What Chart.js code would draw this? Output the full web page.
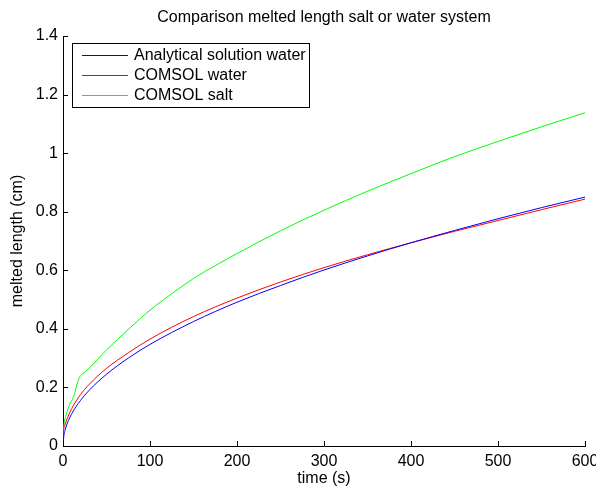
<!DOCTYPE html>
<html>
<head>
<meta charset="utf-8">
<script src="https://cdn.jsdelivr.net/npm/chart.js@4.4.0/dist/chart.umd.min.js"></script>
<style>
html,body{margin:0;padding:0;background:#fff;}
#wrap{width:596px;height:489px;position:relative;}
</style>
</head>
<body>
<div id="wrap"><canvas id="c" width="596" height="489"></canvas></div>
<script>
// ---- data ----
const titleText = "Comparison melted length salt or water system";
const xTitle = "time (s)";
const yTitle = "melted length (cm)";
const seriesNames = ["Analytical solution water", "COMSOL water", "COMSOL salt"];
const seriesColors = ["#0000ff", "#ff0000", "#00ff00"];

const blueT = [0, 1, 2, 5, 10, 20, 30, 50, 75, 100, 150, 200, 250, 300, 350, 400, 450, 500, 550, 600];
const blueV = [0, 0.035, 0.049, 0.078, 0.11, 0.155, 0.19, 0.245, 0.30, 0.347, 0.425, 0.491, 0.548, 0.601, 0.649, 0.694, 0.736, 0.776, 0.814, 0.850];

const redT = [0, 1, 2, 5, 10, 20, 30, 50, 75, 100, 150, 200, 250, 300, 350, 400, 450, 500, 550, 600];
const redV = [0.03, 0.06, 0.07, 0.095, 0.128, 0.175, 0.21, 0.265, 0.318, 0.365, 0.442, 0.505, 0.560, 0.609, 0.653, 0.694, 0.733, 0.770, 0.807, 0.843];

const greenT = [0, 1, 3, 5, 8, 11, 13, 16, 19, 22, 30, 40, 50, 75, 100, 125, 150, 200, 250, 300, 350, 400, 450, 500, 550, 600];
const greenV = [0.03, 0.07, 0.10, 0.12, 0.145, 0.16, 0.175, 0.21, 0.235, 0.245, 0.265, 0.297, 0.328, 0.398, 0.464, 0.52, 0.572, 0.657, 0.735, 0.805, 0.87, 0.93, 0.988, 1.04, 1.09, 1.138];

const xTicks = [0, 100, 200, 300, 400, 500, 600];
const yTicks = [0, 0.2, 0.4, 0.6, 0.8, 1, 1.2, 1.4];
// ----------------------------------------------

const FONT = "'Liberation Sans', Arial, Helvetica, sans-serif";
const FS = 16;

function pts(t, v) { return t.map((x, i) => ({ x: x, y: v[i] })); }

const decor = {
  id: 'decor',
  afterDraw(chart) {
    const ctx = chart.ctx;
    const xs = chart.scales.x, ys = chart.scales.y;
    const a = chart.chartArea;
    ctx.save();
    // inward ticks
    ctx.strokeStyle = '#000';
    ctx.lineWidth = 1;
    ctx.beginPath();
    xTicks.forEach(t => {
      const px = Math.round(xs.getPixelForValue(t)) + 0.5;
      ctx.moveTo(px, a.bottom);
      ctx.lineTo(px, a.bottom - 5);
    });
    yTicks.forEach(t => {
      const py = Math.round(ys.getPixelForValue(t)) + 0.5;
      ctx.moveTo(a.left, py);
      ctx.lineTo(a.left + 5, py);
    });
    ctx.stroke();
    // titles
    ctx.fillStyle = '#000';
    ctx.font = FS + 'px ' + FONT;
    ctx.textAlign = 'center';
    ctx.textBaseline = 'middle';
    ctx.fillText(titleText, (a.left + a.right) / 2, 18);
    ctx.fillText(xTitle, (a.left + a.right) / 2, 479);
    ctx.save();
    ctx.translate(18, (a.top + a.bottom) / 2);
    ctx.rotate(-Math.PI / 2);
    ctx.fillText(yTitle, 0, 0);
    ctx.restore();
    // legend box
    const lx = 72, ly = 43, lw = 237, lh = 64;
    ctx.fillStyle = '#fff';
    ctx.fillRect(lx, ly, lw, lh);
    ctx.strokeStyle = '#000';
    ctx.lineWidth = 1;
    ctx.strokeRect(lx + 0.5, ly + 0.5, lw, lh);
    ctx.textAlign = 'left';
    seriesNames.forEach((name, i) => {
      const y = 55 + i * 20;
      ctx.beginPath();
      ctx.strokeStyle = seriesColors[i];
      ctx.lineWidth = 1;
      ctx.moveTo(82, y + 0.5);
      ctx.lineTo(128, y + 0.5);
      ctx.stroke();
      ctx.fillStyle = '#000';
      ctx.fillText(name, 134, y + 1);
    });
    ctx.restore();
  }
};

new Chart(document.getElementById('c'), {
  type: 'scatter',
  data: {
    datasets: [
      { label: seriesNames[0], data: pts(blueT, blueV), borderColor: seriesColors[0] },
      { label: seriesNames[1], data: pts(redT, redV), borderColor: seriesColors[1] },
      { label: seriesNames[2], data: pts(greenT, greenV), borderColor: seriesColors[2] }
    ].map(d => Object.assign(d, { showLine: true, pointRadius: 0, borderWidth: 1, fill: false, cubicInterpolationMode: 'monotone', tension: 0.4 }))
  },
  options: {
    responsive: false,
    animation: false,
    devicePixelRatio: 1,
    layout: { padding: { left: 0, right: 11, top: 36, bottom: 0 } },
    plugins: { legend: { display: false }, title: { display: false }, tooltip: { enabled: false } },
    scales: {
      x: {
        type: 'linear', min: 0, max: 600,
        afterBuildTicks: s => { s.ticks = xTicks.map(v => ({ value: v })); },
        afterFit: s => { s.height = 43; s.paddingLeft = 0; s.paddingRight = 0; },
        grid: { display: false, drawTicks: false },
        border: { display: true, color: '#000', width: 1 },
        ticks: { color: '#000', font: { family: FONT, size: FS }, padding: 6, maxRotation: 0 }
      },
      y: {
        type: 'linear', min: 0, max: 1.4,
        afterBuildTicks: s => { s.ticks = yTicks.map(v => ({ value: v })); },
        afterFit: s => { s.width = 63; s.paddingTop = 0; s.paddingBottom = 0; },
        grid: { display: false, drawTicks: false },
        border: { display: true, color: '#000', width: 1 },
        ticks: { color: '#000', font: { family: FONT, size: FS }, padding: 5, callback: v => String(Math.round(v * 10) / 10) }
      }
    }
  },
  plugins: [decor]
});
</script>
</body>
</html>
